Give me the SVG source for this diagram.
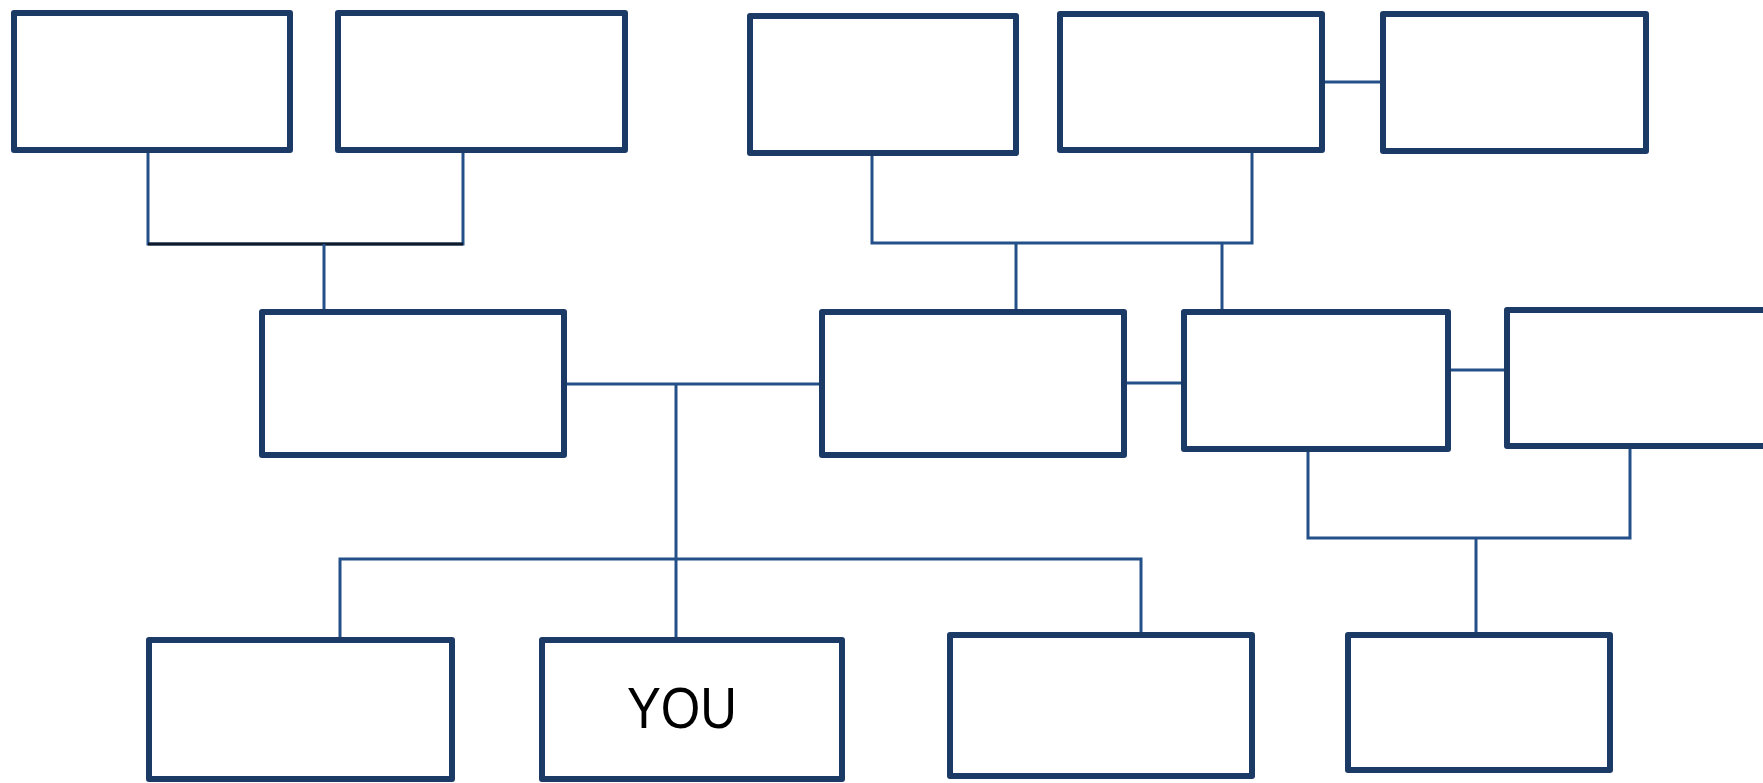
<svg xmlns="http://www.w3.org/2000/svg" width="1763" height="783" viewBox="0 0 1763 783">
<style>
.box{fill:#ffffff;stroke:#1c3a66;stroke-width:6;stroke-linejoin:round}
.ln{fill:none;stroke:#24508a;stroke-width:3}
.lbl{font-family:"Liberation Sans",Arial,sans-serif;font-size:57px;fill:#000}
</style>
<rect width="1763" height="783" fill="#ffffff"/>
<g id="connectors">
<path class="ln" d="M148,153 V244 H463 V153"/>
<path class="ln" style="stroke:#101a28" d="M148,244 H463"/>
<path class="ln" d="M324,244 V309"/>
<path class="ln" d="M872,156 V243 H1252 V153"/>
<path class="ln" d="M1016,243 V309"/>
<path class="ln" d="M1222,243 V309"/>
<path class="ln" d="M1325,82 H1380"/>
<path class="ln" d="M567,384 H819"/>
<path class="ln" d="M676,384 V637"/>
<path class="ln" d="M340,637 V559 H1141 V632"/>
<path class="ln" d="M1127,383 H1181"/>
<path class="ln" d="M1451,370 H1504"/>
<path class="ln" d="M1308,452 V538 H1630 V449"/>
<path class="ln" d="M1476,538 V632"/>
</g>
<g id="nodeA"><rect class="box" x="14" y="13" width="276" height="137"/></g>
<g id="nodeB"><rect class="box" x="338" y="13" width="287" height="137"/></g>
<g id="nodeD"><rect class="box" x="750" y="16" width="266" height="137"/></g>
<g id="nodeE"><rect class="box" x="1060" y="14" width="262" height="136"/></g>
<g id="nodeF"><rect class="box" x="1383" y="14" width="263" height="137"/></g>
<g id="nodeC"><rect class="box" x="262" y="312" width="302" height="143"/></g>
<g id="nodeG"><rect class="box" x="822" y="312" width="302" height="143"/></g>
<g id="nodeH"><rect class="box" x="1184" y="312" width="264" height="137"/></g>
<g id="nodeI"><rect class="box" x="1507" y="310" width="270" height="136"/></g>
<g id="nodeJ"><rect class="box" x="149" y="640" width="303" height="139"/></g>
<g id="nodeYou"><rect class="box" x="542" y="640" width="300" height="139"/>
<text class="lbl" x="682" y="728" text-anchor="middle" textLength="110" lengthAdjust="spacingAndGlyphs">YOU</text></g>
<g id="nodeL"><rect class="box" x="950" y="635" width="302" height="141"/></g>
<g id="nodeM"><rect class="box" x="1348" y="635" width="262" height="135"/></g>
</svg>
